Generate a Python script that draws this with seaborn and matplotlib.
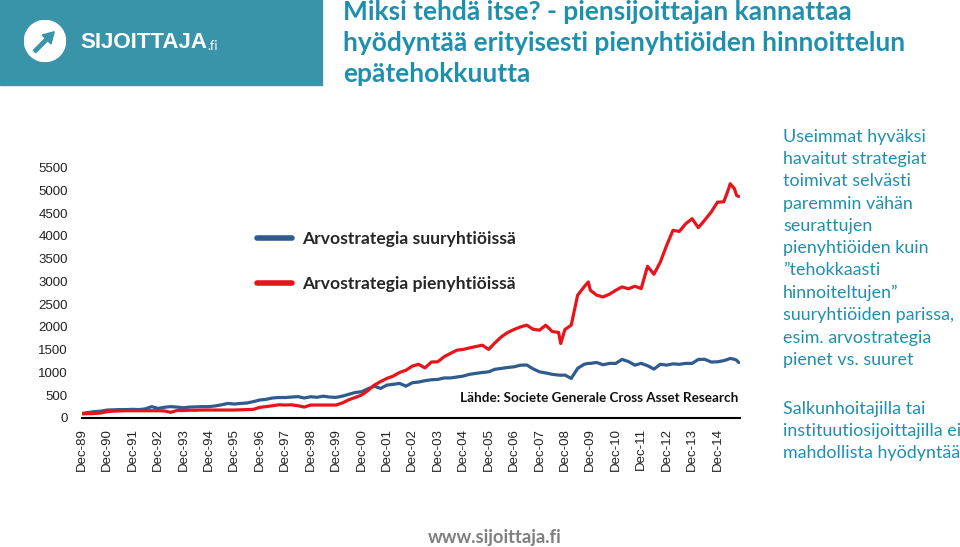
import pandas as pd
import seaborn as sns
import matplotlib.pyplot as plt
from matplotlib.patches import Rectangle, Circle, FancyArrow

# Values (index level, Dec-89 ~ 100)
dates = [
    "1989-12", "1990-03", "1990-06", "1990-09", "1990-12", "1991-03", "1991-06", "1991-09", "1991-12",
    "1992-03", "1992-06", "1992-09", "1992-12", "1993-03", "1993-06", "1993-09", "1993-12",
    "1994-03", "1994-06", "1994-09", "1994-12", "1995-03", "1995-06", "1995-09", "1995-12",
    "1996-03", "1996-06", "1996-09", "1996-12", "1997-03", "1997-06", "1997-09", "1997-12",
    "1998-03", "1998-06", "1998-09", "1998-12", "1999-03", "1999-06", "1999-09", "1999-12",
    "2000-03", "2000-06", "2000-09", "2000-12", "2001-03", "2001-06", "2001-09", "2001-12",
    "2002-03", "2002-06", "2002-09", "2002-12", "2003-03", "2003-06", "2003-09", "2003-12",
    "2004-03", "2004-06", "2004-09", "2004-12", "2005-03", "2005-06", "2005-09", "2005-12",
    "2006-03", "2006-06", "2006-09", "2006-12", "2007-03", "2007-06", "2007-09", "2007-12",
    "2008-03", "2008-06", "2008-09", "2008-10", "2008-12", "2009-03", "2009-06", "2009-09", "2009-11", "2009-12",
    "2010-03", "2010-06", "2010-09", "2010-12", "2011-03", "2011-06", "2011-09", "2011-12",
    "2012-03", "2012-06", "2012-09", "2012-12", "2013-03", "2013-06", "2013-09", "2013-12",
    "2014-03", "2014-06", "2014-09", "2014-12", "2015-03", "2015-05", "2015-06", "2015-08", "2015-09", "2015-10",
]

large_cap = [
    100, 120, 140, 150, 175, 180, 185, 185, 190,
    185, 200, 250, 210, 235, 250, 240, 225,
    240, 245, 250, 250, 265, 290, 320, 307,
    320, 330, 360, 395, 410, 440, 450, 450,
    460, 470, 440, 467, 455, 480, 460, 453,
    480, 520, 560, 577, 640, 700, 650, 723,
    740, 760, 700, 775, 790, 820, 840, 848,
    880, 880, 900, 921, 960, 980, 1000, 1015,
    1070, 1090, 1110, 1125, 1160, 1165, 1080, 1015,
    990, 960, 943, 940, 943, 870, 1090, 1180, 1200, 1200,
    1220, 1170, 1200, 1200, 1287, 1240, 1162, 1200,
    1150, 1075, 1180, 1162, 1190, 1180, 1200, 1200,
    1287, 1290, 1230, 1235, 1260, 1290, 1309, 1290, 1270, 1220,
]

small_cap = [
    90, 95, 100, 110, 140, 150, 155, 160, 160,
    160, 160, 160, 160, 155, 125, 165, 165,
    170, 170, 175, 175, 175, 175, 175, 175,
    180, 185, 190, 234, 250, 270, 290, 285,
    290, 270, 240, 285, 285, 285, 285, 285,
    330, 400, 450, 504, 600, 720, 800, 870,
    920, 1000, 1050, 1140, 1180, 1100, 1230, 1235,
    1345, 1420, 1490, 1507, 1540, 1570, 1600, 1507,
    1650, 1783, 1880, 1945, 2000, 2040, 1950, 1930,
    2040, 1900, 1880, 1637, 1945, 2040, 2697, 2880, 2990, 2807,
    2700, 2660, 2720, 2807, 2880, 2840, 2895, 2844,
    3333, 3158, 3428, 3794, 4123, 4100, 4270, 4379,
    4182, 4350, 4524, 4743, 4750, 5000, 5147, 5037, 4890, 4868,
]

series_labels = ["Arvostrategia suuryhtiöissä", "Arvostrategia pienyhtiöissä"]
y_ticks = [0, 500, 1000, 1500, 2000, 2500, 3000, 3500, 4000, 4500, 5000, 5500]
tick_years = list(range(1989, 2015))

title = "Miksi tehdä itse? - piensijoittajan kannattaa\nhyödyntää erityisesti pienyhtiöiden hinnoittelun\nepätehokkuutta"
side_text_1 = ("Useimmat hyväksi\nhavaitut strategiat\ntoimivat selvästi\nparemmin vähän\nseurattujen\n"
               "pienyhtiöiden kuin\n\u201dtehokkaasti\nhinnoiteltujen\u201d\nsuuryhtiöiden parissa,\n"
               "esim. arvostrategia\npienet vs. suuret")
side_text_2 = "Salkunhoitajilla tai\ninstituutiosijoittajilla ei\nmahdollista hyödyntää"

df = pd.DataFrame({
    "date": pd.to_datetime(dates * 2),
    "value": large_cap + small_cap,
    "series": [series_labels[0]] * len(dates) + [series_labels[1]] * len(dates),
})

sns.set_style("white")
plt.rcParams["font.family"] = ["Lato", "DejaVu Sans"]

W, H = 960, 547
fig = plt.figure(figsize=(9.6, 5.47), dpi=100)
teal = "#1f8fae"
logo_bg = "#3a94a9"

# logo block
fig.patches.append(Rectangle((0, 1 - 85 / H), 322 / W, 85 / H, transform=fig.transFigure,
                             color=logo_bg, zorder=0))
ax_logo = fig.add_axes([24 / W, 1 - 62 / H, 42 / W, 42 / H])
ax_logo.set_zorder(3)
ax_logo.set_xlim(0, 1)
ax_logo.set_ylim(0, 1)
ax_logo.set_aspect("equal")
ax_logo.axis("off")
ax_logo.add_patch(Circle((0.5, 0.5), 0.49, color="white"))
ax_logo.add_patch(FancyArrow(0.25, 0.25, 0.47, 0.47, width=0.08, head_width=0.3, head_length=0.26,
                             color=logo_bg, length_includes_head=True))
fig.text(80 / W, 1 - 43 / H, "SIJOITTAJA", color="white", fontsize=16, fontweight="bold",
         va="center", ha="left", family=["Liberation Sans"])
fig.text(207 / W, 1 - 46 / H, ".fi", color="white", fontsize=9, va="center", ha="left")

# title and side texts
fig.text(343 / W, 1 - 0 / H, title, color=teal, fontsize=19, fontweight="bold",
         va="top", ha="left", linespacing=1.34)
fig.text(783 / W, 1 - 129 / H, side_text_1, color=teal, fontsize=12.9, va="top", ha="left",
         linespacing=1.48)
fig.text(783 / W, 1 - 401 / H, side_text_2, color=teal, fontsize=12.9, va="top", ha="left",
         linespacing=1.48)
fig.text(495 / W, 1 - 537 / H, "www.sijoittaja.fi", color="#7f7f7f", fontsize=13.2,
         fontweight="bold", va="center", ha="center")

# chart
ax = fig.add_axes([81.7 / W, 1 - 418 / H, (740 - 81.7) / W, (418 - 167.7) / H])
sns.lineplot(data=df, x="date", y="value", hue="series",
             palette={series_labels[0]: "#2f5b8f", series_labels[1]: "#e8141b"},
             linewidth=2.3, ax=ax)

ax.set_ylim(0, 5500)
ax.set_xlim(pd.Timestamp("1989-12-01"), pd.Timestamp("2015-10-20"))
ax.set_yticks(y_ticks)
ax.set_yticklabels([str(v) for v in y_ticks], family="Liberation Sans", fontsize=9.5, color="#222222")
tick_dates = [pd.Timestamp(f"{y}-12-01") for y in tick_years]
ax.set_xticks(tick_dates)
ax.set_xticklabels([f"Dec-{str(y)[-2:]}" for y in tick_years], rotation=90,
                   family="Liberation Sans", fontsize=9.5, color="#222222")
ax.tick_params(axis="y", length=0, pad=10)
ax.tick_params(axis="x", length=4, width=1.5, direction="out", pad=3, color="black")
ax.set_xlabel("")
ax.set_ylabel("")
for side in ["top", "right", "left"]:
    ax.spines[side].set_visible(False)
ax.spines["bottom"].set_linewidth(1.5)
ax.spines["bottom"].set_color("black")
ax.grid(False)

leg = ax.legend(loc="upper left", bbox_to_anchor=(241 / W, 1 - 215 / H),
                bbox_transform=fig.transFigure, frameon=False, handlelength=2.0,
                handletextpad=0.57, labelspacing=1.68,
                prop={"family": "Lato", "weight": "bold", "size": 12.6})
for line in leg.get_lines():
    line.set_linewidth(4)

ax.text(738 / W, 1 - 398 / H, "Lähde: Societe Generale Cross Asset Research",
        transform=fig.transFigure, ha="right", va="center", fontsize=9.7, fontweight="bold",
        color="#111111")

fig.savefig("out.png", dpi=100)
